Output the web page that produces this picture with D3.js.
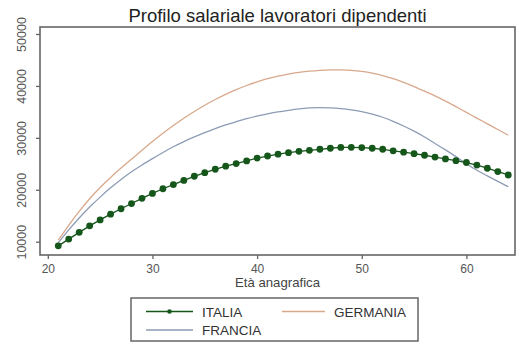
<!DOCTYPE html>
<html>
<head>
<meta charset="utf-8">
<script src="https://cdn.jsdelivr.net/npm/d3@7"></script>
<style>
  html, body { margin: 0; padding: 0; background: #fff; }
  svg { display: block; font-family: "Liberation Sans", Arial, sans-serif; }
</style>
</head>
<body>
<svg id="chart" width="525" height="348"></svg>
<script>
// Età (anni)
const ages = d3.range(21, 65);

// Retribuzione media per età, in euro
const italia = [
  9200, 10500, 11800, 13050, 14200, 15300, 16350, 17350, 18350, 19300,
  20200, 21000, 21800, 22600, 23300, 23950, 24550, 25050, 25550, 26100,
  26500, 26850, 27150, 27400, 27600, 27800, 28000, 28150, 28180, 28120,
  28000, 27800, 27500, 27250, 26950, 26650, 26300, 25950, 25600, 25250,
  24750, 24150, 23500, 22850
];
const germania = [
  10300, 13200, 15900, 18300, 20500, 22400, 24200, 25900, 27600, 29300,
  30900, 32400, 33800, 35100, 36300, 37400, 38400, 39300, 40100, 40800,
  41400, 41900, 42300, 42600, 42850, 43000, 43100, 43100, 43000, 42800,
  42500, 42000, 41400, 40700, 39900, 39000, 38100, 37100, 36000, 34900,
  33800, 32700, 31600, 30500
];
const francia = [
  9800, 12300, 14600, 16700, 18600, 20400, 22000, 23500, 24800, 26000,
  27200, 28300, 29300, 30200, 31000, 31800, 32500, 33100, 33700, 34200,
  34600, 35000, 35300, 35600, 35800, 35850, 35800, 35650, 35400, 35050,
  34600, 34000, 33200, 32300, 31300, 30200, 28900, 27700, 26400, 25000,
  23700, 22700, 21600, 20600
];

const xTicks = [20, 30, 40, 50, 60];
const yTicks = [10000, 20000, 30000, 40000, 50000];

const title = "Profilo salariale lavoratori dipendenti";
const xTitle = "Età anagrafica";

const colors = { ITALIA: "#15561a", GERMANIA: "#d8a88c", FRANCIA: "#8d9cb4" };

const svg = d3.select("#chart");

// plot region box
const box = { left: 40, right: 515, top: 27, bottom: 255 };

const x = d3.scaleLinear().domain([20, 60]).range([47.8, 466.4]);
const y = d3.scaleLinear().domain([10000, 50000]).range([241.7, 34]);

// title
svg.append("text")
  .attr("x", (box.left + box.right) / 2)
  .attr("y", 22)
  .attr("text-anchor", "middle")
  .attr("font-size", 18.5)
  .attr("fill", "#222")
  .text(title);

// y axis (ticks outside left, labels rotated)
const yAxis = svg.append("g")
  .attr("transform", `translate(${box.left},0)`)
  .call(d3.axisLeft(y).tickValues(yTicks).tickSize(4).tickFormat(d3.format("d")));
yAxis.select(".domain").remove();
yAxis.selectAll(".tick line").attr("stroke", "#666").attr("stroke-width", 1.3);
yAxis.selectAll(".tick text")
  .attr("x", null).attr("dy", null)
  .attr("transform", "translate(-14,0) rotate(-90)")
  .attr("text-anchor", "middle")
  .attr("font-size", 12.5)
  .attr("fill", "#555")
  .attr("font-family", "Liberation Sans, Arial, sans-serif");

// x axis
const xAxis = svg.append("g")
  .attr("transform", `translate(0,${box.bottom})`)
  .call(d3.axisBottom(x).tickValues(xTicks).tickSize(4).tickFormat(d3.format("d")));
xAxis.select(".domain").remove();
xAxis.selectAll(".tick line").attr("stroke", "#666").attr("stroke-width", 1.3);
xAxis.selectAll(".tick text")
  .attr("y", 18).attr("dy", null)
  .attr("font-size", 12)
  .attr("fill", "#555")
  .attr("font-family", "Liberation Sans, Arial, sans-serif");

svg.append("text")
  .attr("x", (box.left + box.right) / 2)
  .attr("y", 287)
  .attr("text-anchor", "middle")
  .attr("font-size", 13.2)
  .attr("fill", "#444")
  .text(xTitle);

// frame
svg.append("rect")
  .attr("x", box.left).attr("y", box.top)
  .attr("width", box.right - box.left).attr("height", box.bottom - box.top)
  .attr("fill", "none").attr("stroke", "#666").attr("stroke-width", 1.6);

const smooth = d3.line()
  .x((d, i) => x(ages[i]))
  .y(d => y(d))
  .curve(d3.curveBasis);

const straight = d3.line()
  .x((d, i) => x(ages[i]))
  .y(d => y(d));

svg.append("path").datum(germania)
  .attr("d", smooth).attr("fill", "none")
  .attr("stroke", colors.GERMANIA).attr("stroke-width", 1.3);

svg.append("path").datum(francia)
  .attr("d", smooth).attr("fill", "none")
  .attr("stroke", colors.FRANCIA).attr("stroke-width", 1.3);

svg.append("path").datum(italia)
  .attr("d", straight).attr("fill", "none")
  .attr("stroke", colors.ITALIA).attr("stroke-width", 1.3);

svg.append("g").selectAll("circle").data(italia).join("circle")
  .attr("cx", (d, i) => x(ages[i]))
  .attr("cy", d => y(d))
  .attr("r", 3.4)
  .attr("fill", colors.ITALIA);

// legend
const lg = svg.append("g");
lg.append("rect")
  .attr("x", 131).attr("y", 298).attr("width", 287).attr("height", 43)
  .attr("fill", "#fff").attr("stroke", "#666").attr("stroke-width", 1.5);

const legendItems = [
  { name: "ITALIA", x0: 146, x1: 193, cy: 311.5, dot: true },
  { name: "GERMANIA", x0: 282, x1: 325, cy: 311.5, dot: false },
  { name: "FRANCIA", x0: 146, x1: 193, cy: 330, dot: false }
];
legendItems.forEach(it => {
  lg.append("line")
    .attr("x1", it.x0).attr("x2", it.x1)
    .attr("y1", it.cy).attr("y2", it.cy)
    .attr("stroke", colors[it.name]).attr("stroke-width", 1.3);
  if (it.dot) {
    lg.append("circle")
      .attr("cx", (it.x0 + it.x1) / 2).attr("cy", it.cy)
      .attr("r", 2.3).attr("fill", colors[it.name]);
  }
  lg.append("text")
    .attr("x", it.x1 + 9).attr("y", it.cy + 5)
    .attr("font-size", 13.5)
    .attr("fill", "#333")
    .text(it.name);
});
</script>
</body>
</html>
